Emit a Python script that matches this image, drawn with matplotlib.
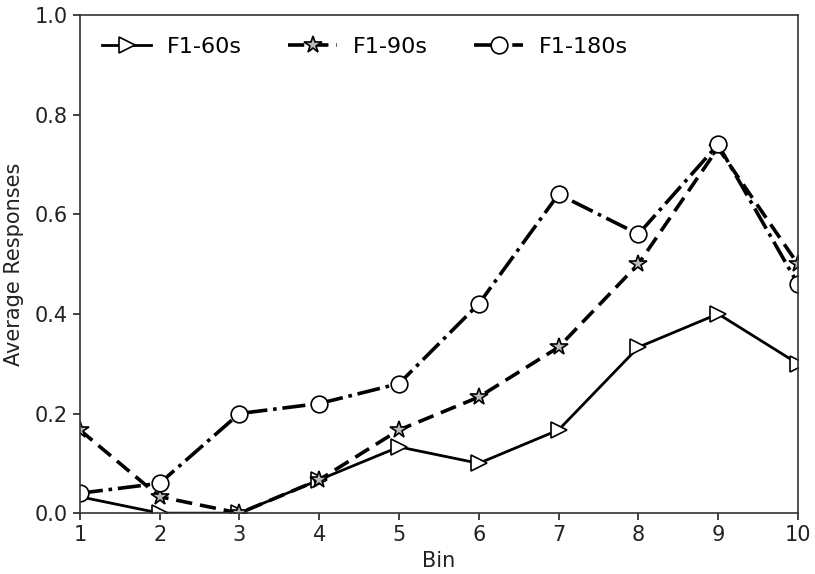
import matplotlib
matplotlib.use("Agg")
import matplotlib.pyplot as plt

bins = [1, 2, 3, 4, 5, 6, 7, 8, 9, 10]
f60 = [0.033, 0.0, 0.0, 0.067, 0.133, 0.1, 0.167, 0.333, 0.4, 0.3]
f90 = [0.167, 0.033, 0.0, 0.067, 0.167, 0.233, 0.333, 0.5, 0.733, 0.5]
f180 = [0.04, 0.06, 0.2, 0.22, 0.26, 0.42, 0.64, 0.56, 0.74, 0.46]
labels = ["F1-60s", "F1-90s", "F1-180s"]

fig = plt.figure(figsize=(8.15, 5.74), dpi=100)
ax = fig.add_axes([0.098, 0.106, 0.881, 0.868])

ax.plot(bins, f60, '-', color='black', lw=2.0, marker='>', ms=12,
        mfc='white', mec='black', mew=1.2, label=labels[0])
ax.plot(bins, f90, '--', color='black', lw=2.6, dashes=(4.5, 2.2), marker='*', ms=13,
        mfc='#bbbbbb', mec='black', mew=1.2, label=labels[1])
ax.plot(bins, f180, '-.', color='black', lw=2.6, marker='o', ms=12,
        mfc='white', mec='black', mew=1.2, label=labels[2])

ax.set_xlim(1, 10)
ax.set_ylim(0, 1.0)
ax.set_xticks(bins)
ax.set_yticks([0.0, 0.2, 0.4, 0.6, 0.8, 1.0])
ax.tick_params(labelsize=15, width=1.2, length=5, colors='#222222')
ax.set_xlabel("Bin", fontsize=15, labelpad=4, color='#222222')
ax.set_ylabel("Average Responses", fontsize=15, labelpad=8, color='#222222')
for s in ax.spines.values():
    s.set_linewidth(1.2)
    s.set_color('#333333')

ax.legend(loc='upper left', ncol=3, frameon=False, fontsize=16,
          handlelength=2.2, handletextpad=0.7, columnspacing=2.1,
          borderaxespad=0.6)

fig.savefig("out.png", dpi=100)
